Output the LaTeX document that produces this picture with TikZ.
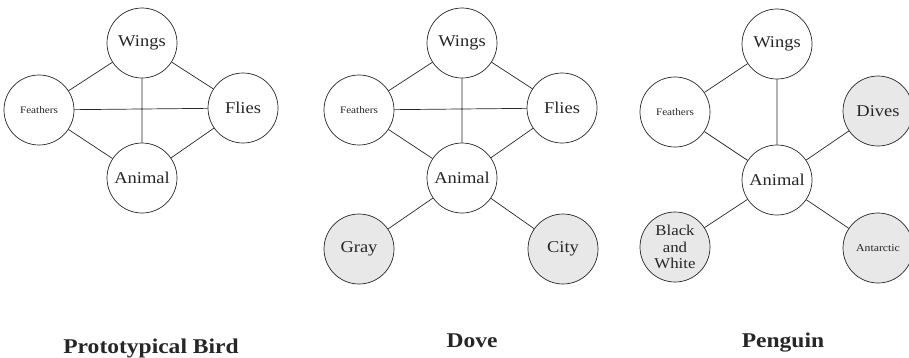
\documentclass[tikz,border=0pt]{standalone}
\usepackage{fontspec}
\setmainfont[FakeStretch=1.12]{Liberation Serif}
\begin{document}
\begin{tikzpicture}[x=1pt,y=-1pt,
  concept/.style={circle,draw=black!85,line width=0.7pt,minimum size=70pt,inner sep=0pt,
    text=black!85,font=\fontsize{16.5}{17}\selectfont,align=center},
  small/.style={font=\fontsize{10}{11}\selectfont},
  smallish/.style={font=\fontsize{10.5}{12}\selectfont},
  feature/.style={concept,fill=black!9},
  link/.style={draw=black!85,line width=0.7pt},
  caption/.style={text=black!85,font=\fontsize{21}{22}\selectfont\bfseries,anchor=base}]
\useasboundingbox (0,0) rectangle (909,357);

% Prototypical bird
\node[concept] (w1) at (142,43) {Wings};
\node[concept,small] (fe1) at (39,110) {Feathers};
\node[concept] (fl1) at (243,108) {Flies};
\node[concept] (a1) at (142,178) {Animal};
\draw[link] (w1) -- (fe1) (w1) -- (fl1) (w1) -- (a1)
  (fe1) -- (fl1) (fe1) -- (a1) (fl1) -- (a1);

% Dove
\node[concept] (w2) at (462,43) {Wings};
\node[concept,small] (fe2) at (359,110) {Feathers};
\node[concept] (fl2) at (562,108) {Flies};
\node[concept] (a2) at (462,178) {Animal};
\node[feature] (g2) at (359,249) {Gray};
\node[feature] (c2) at (563,249) {City};
\draw[link] (w2) -- (fe2) (w2) -- (fl2) (w2) -- (a2)
  (fe2) -- (fl2) (fe2) -- (a2) (fl2) -- (a2)
  (a2) -- (g2) (a2) -- (c2);

% Penguin
\node[concept] (w3) at (777,44) {Wings};
\node[concept,small] (fe3) at (675,112) {Feathers};
\node[feature] (d3) at (878,111) {Dives};
\node[concept] (a3) at (777,180) {Animal};
\node[feature,font=\fontsize{15}{16.5}\selectfont] (bw3) at (675,247) {Black\\and\\White};
\node[feature,smallish] (an3) at (878,248) {Antarctic};
\draw[link] (w3) -- (fe3) (w3) -- (a3) (fe3) -- (a3)
  (a3) -- (d3) (a3) -- (bw3) (a3) -- (an3);

% Captions
\node[caption] (t1) at (151,353) {Prototypical Bird};
\node[caption] (t2) at (472,347) {Dove};
\node[caption] (t3) at (783,347) {Penguin};
\end{tikzpicture}
\end{document}
